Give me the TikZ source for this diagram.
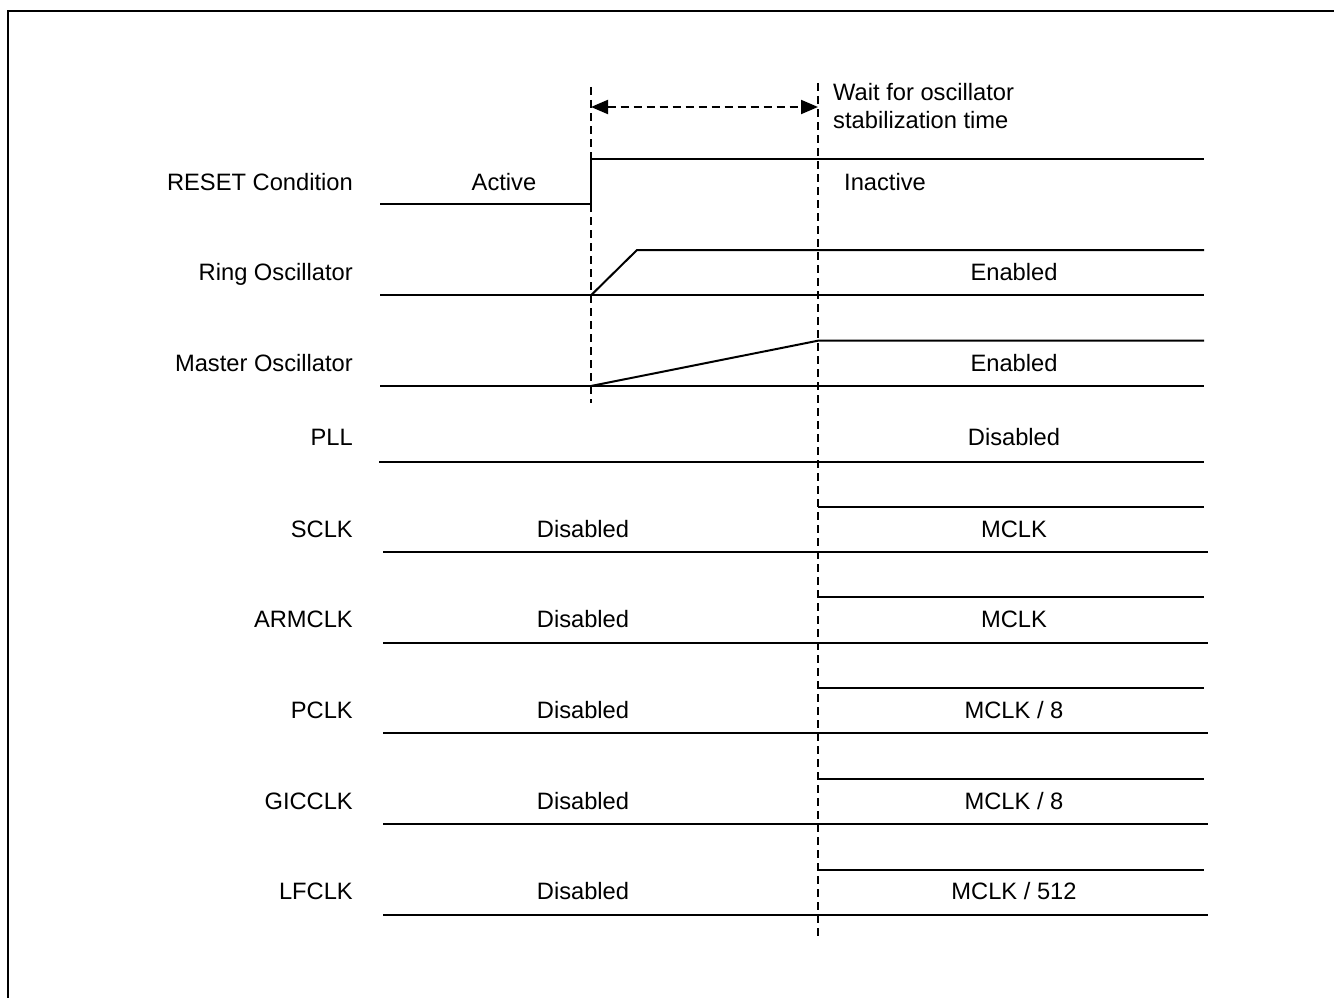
\documentclass[tikz,border=0pt]{standalone}
\usepackage{fontspec}
\setmainfont{Liberation Sans}
\usetikzlibrary{arrows.meta}
\begin{document}
\begin{tikzpicture}[x=1pt,y=-1pt,
  sig/.style={line width=2pt},
  guide/.style={line width=2pt,dash pattern=on 8pt off 5pt},
  lbl/.style={inner sep=0pt,font=\fontsize{23.7}{28}\selectfont},
  rlbl/.style={lbl,anchor=base east},
  clbl/.style={lbl,anchor=base}]
\useasboundingbox (0,0) rectangle (1334,998);
% frame
\draw[line width=2.6pt] (8,998) -- (8,11) -- (1334,11);
% guides
\coordinate (g1t) at (591,87);
\coordinate (g1b) at (591,403);
\coordinate (g2t) at (818,83);
\coordinate (g2b) at (818,940);
\draw[guide] (g1t) -- (g1b);
\draw[guide] (g2t) -- (g2b);
\coordinate (a1) at (591,107);
\coordinate (a2) at (818,107);
\draw[guide,{Triangle[length=17pt,width=14pt]}-{Triangle[length=17pt,width=14pt]}] (a1) -- (a2);
\node[lbl,anchor=west,align=left] (wait) at (833,106) {Wait for oscillator\\stabilization time};
% RESET
\draw[sig] (380,204) -- (591,204) -- (591,159) -- (1204,159);
\node[rlbl] (l1) at (353,190.5) {RESET Condition};
\node[clbl] (t1a) at (504,190.5) {Active};
\node[clbl] (t1b) at (885,190.5) {Inactive};
% Ring oscillator
\draw[sig] (380,295.3) -- (1204,295.3);
\draw[sig] (591,295.3) -- (637,250) -- (1204,250);
\node[rlbl] (l2) at (353,280.5) {Ring Oscillator};
\node[clbl] (t2) at (1014,280.5) {Enabled};
% Master oscillator
\draw[sig] (380,386) -- (1204,386);
\draw[sig] (591,386) -- (818,340.7) -- (1204,340.7);
\node[rlbl] (l3) at (353,371) {Master Oscillator};
\node[clbl] (t3) at (1014,371) {Enabled};
% PLL
\draw[sig] (379,461.5) -- (1204,461.5);
\node[rlbl] (l4) at (353,445.5) {PLL};
\node[clbl] (t4) at (1014,445.5) {Disabled};
% clocks
\foreach \name/\val/\k in {SCLK/MCLK/0,ARMCLK/MCLK/1,PCLK/{MCLK / 8}/2,GICCLK/{MCLK / 8}/3,LFCLK/{MCLK / 512}/4}{
  \pgfmathsetmacro{\yh}{506.7+90.7*\k}
  \pgfmathsetmacro{\yl}{\yh+45.2}
  \pgfmathsetmacro{\yb}{\yh+30.3}
  \draw[sig] (383,\yl) -- (1208,\yl);
  \draw[sig] (818,\yh) -- (1204,\yh);
  \node[rlbl] (n\k) at (353,\yb) {\name};
  \node[clbl] (d\k) at (583,\yb) {Disabled};
  \node[clbl] (m\k) at (1014,\yb) {\val};
}
\end{tikzpicture}
\end{document}
